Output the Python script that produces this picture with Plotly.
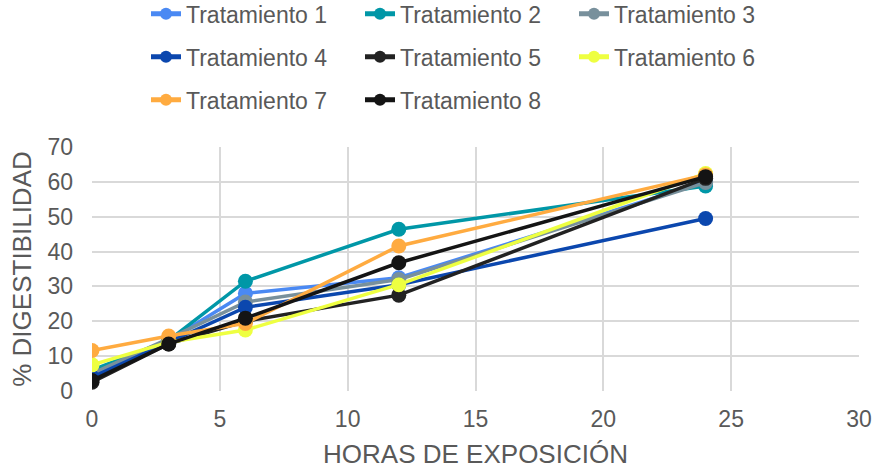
import plotly.graph_objects as go

horas = [0, 3, 6, 12, 24]
nombres = ["Tratamiento 1", "Tratamiento 2", "Tratamiento 3", "Tratamiento 4",
           "Tratamiento 5", "Tratamiento 6", "Tratamiento 7", "Tratamiento 8"]
t1 = [4.5, 14.5, 28.0, 32.5, 60.0]
t2 = [6.0, 14.5, 31.5, 46.4, 58.8]
t3 = [5.0, 15.0, 25.5, 32.0, 59.8]
t4 = [4.0, 14.0, 24.0, 30.5, 49.5]
t5 = [2.5, 13.5, 20.0, 27.5, 61.0]
t6 = [7.5, 14.0, 17.5, 30.5, 62.4]
t7 = [11.6, 15.8, 19.4, 41.6, 62.0]
t8 = [3.0, 13.5, 20.9, 36.8, 61.5]
series = [t1, t2, t3, t4, t5, t6, t7, t8]
colores = ["#4A89F3", "#0097A7", "#78909C", "#0B47AE",
           "#222222", "#EEFF41", "#FFAB40", "#141414"]
leyendas = ["legend", "legend", "legend", "legend2", "legend2", "legend2", "legend3", "legend3"]

gris = "#595959"
fig = go.Figure()
for nombre, vals, col, lg in zip(nombres, series, colores, leyendas):
    fig.add_trace(go.Scatter(
        x=horas, y=vals, name=nombre, mode="lines+markers",
        line=dict(color=col, width=3.5),
        marker=dict(color=col, size=15),
        legend=lg,
    ))

W, H = 874, 470
PL, PR, PT, PB = 92, 15, 147, 79
ph = H - PT - PB
pw = W - PL - PR

def py(pix):
    return (H - PB - pix) / ph

lx = (146 - PL) / pw
legfont = dict(family="Liberation Sans, Arial, sans-serif", size=23, color=gris)
common = dict(orientation="h", xanchor="left", yanchor="middle", x=lx,
              font=legfont, entrywidth=169, entrywidthmode="pixels",
              bgcolor="rgba(0,0,0,0)", traceorder="normal", itemsizing="constant")

fig.update_layout(
    width=W, height=H,
    margin=dict(l=PL, r=PR, t=PT, b=PB, autoexpand=False),
    paper_bgcolor="white", plot_bgcolor="white",
    font=dict(family="Liberation Sans, Arial, sans-serif", color=gris, size=23),
    legend=dict(y=py(13.7), **common),
    legend2=dict(y=py(56.7), **common),
    legend3=dict(y=py(99.7), **common),
    xaxis=dict(
        range=[0, 30], dtick=5, tick0=0,
        showgrid=True, gridcolor="#D9D9D9", gridwidth=1.5,
        zeroline=False, showline=False,
        tickfont=dict(size=23, color=gris), ticklabelstandoff=12,
        title=dict(text="HORAS DE EXPOSICIÓN", font=dict(size=26, color=gris), standoff=13),
    ),
    yaxis=dict(
        range=[0, 70], dtick=10, tick0=0,
        showgrid=True, gridcolor="#D9D9D9", gridwidth=1.5,
        zeroline=False, showline=False,
        tickfont=dict(size=23, color=gris), ticklabelstandoff=18,
        title=dict(text="% DIGESTIBILIDAD", font=dict(size=26, color=gris), standoff=8),
    ),
)
fig.write_html("out.html", config={"displayModeBar": False},
               post_script="document.body.style.margin='0';")
